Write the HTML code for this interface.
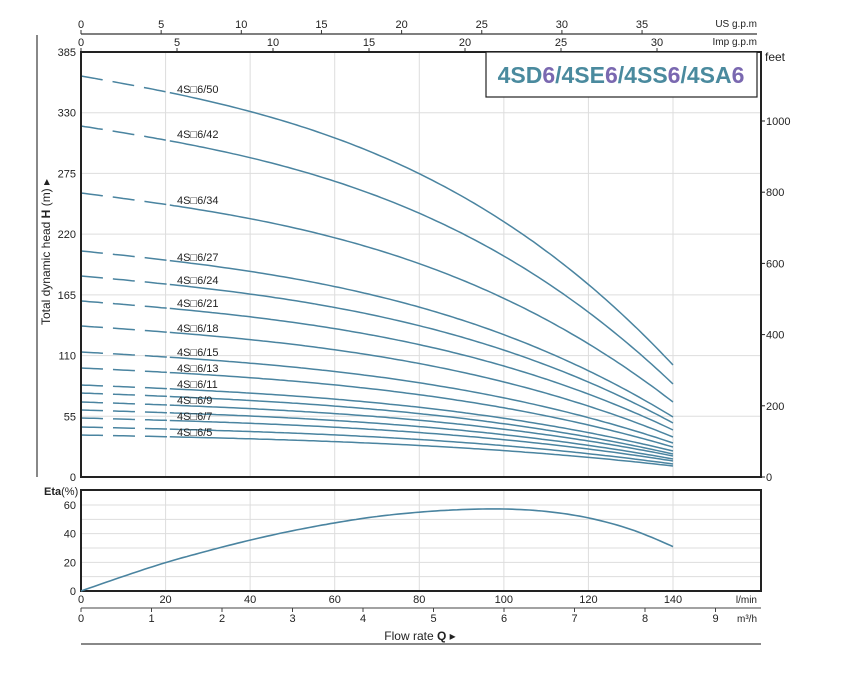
<!DOCTYPE html>
<html><head><meta charset="utf-8"><style>
body{margin:0;background:#fff}
svg{display:block;font-family:"Liberation Sans",sans-serif}
</style></head><body>
<svg id="s" width="855" height="678" viewBox="0 0 855 678" xmlns="http://www.w3.org/2000/svg">
<rect width="855" height="678" fill="#fff"/>
<g id="grid" stroke="#dddddd" stroke-width="1"></g>
<line x1="37" y1="35" x2="37" y2="477" stroke="#888" stroke-width="2"/>
<text transform="translate(50,252) rotate(-90)" font-size="12" text-anchor="middle" fill="#222">Total dynamic head <tspan font-weight="bold">H</tspan> (m) ▸</text>
<line x1="81" y1="34" x2="757" y2="34" stroke="#333" stroke-width="1.2"/>
<g id="top" font-size="11" fill="#222" text-anchor="middle"></g>
<text x="757" y="27" font-size="10" text-anchor="end" fill="#222">US g.p.m</text>
<text x="757" y="45" font-size="10" text-anchor="end" fill="#222">Imp g.p.m</text>
<g id="curves" fill="none" stroke="#4a84a0" stroke-width="1.5"></g>
<g id="labels" font-size="11" fill="#222"></g>
<rect x="81" y="52" width="680" height="425" fill="none" stroke="#222" stroke-width="2"/>
<rect x="486" y="52" width="271" height="45" fill="#fff" stroke="#222" stroke-width="1.2"/>
<text x="621" y="83" font-size="23" font-weight="bold" text-anchor="middle" fill="#4a8a9e">4SD<tspan fill="#7a68b0">6</tspan>/4SE<tspan fill="#7a68b0">6</tspan>/4SS<tspan fill="#7a68b0">6</tspan>/4SA<tspan fill="#7a68b0">6</tspan></text>
<text x="765" y="61" font-size="12" fill="#222">feet</text>
<g id="yax" font-size="11" fill="#222"></g>
<rect x="81" y="490" width="680" height="101" fill="none" stroke="#222" stroke-width="2"/>
<text x="44" y="495" font-size="11" fill="#222"><tspan font-weight="bold">Eta</tspan>(%)</text>
<path id="eta" fill="none" stroke="#4a84a0" stroke-width="1.6"/>
<g id="bot" font-size="11" fill="#222" text-anchor="middle"></g>
<line x1="81" y1="608" x2="761" y2="608" stroke="#444" stroke-width="1"/>
<text x="757" y="603" font-size="10" text-anchor="end" fill="#222">l/min</text>
<text x="757" y="622" font-size="10" text-anchor="end" fill="#222">m³/h</text>
<text x="420" y="640" font-size="12" text-anchor="middle" fill="#222">Flow rate  <tspan font-weight="bold">Q</tspan> ▸</text>
<line x1="81" y1="644" x2="761" y2="644" stroke="#888" stroke-width="2"/>
</svg>
<script>
const NS="http://www.w3.org/2000/svg";
function el(p,t,a,txt){const e=document.createElementNS(NS,t);for(const k in a)e.setAttribute(k,a[k]);if(txt!==undefined)e.textContent=txt;document.getElementById(p).appendChild(e);return e;}
const X=q=>81+q*592/140;
for(let q=20;q<=140;q+=20){el("grid","line",{x1:X(q),y1:52,x2:X(q),y2:477});el("grid","line",{x1:X(q),y1:490,x2:X(q),y2:591});}
for(let h=55;h<385;h+=55){const y=477-h*425/385;el("grid","line",{x1:81,y1:y,x2:761,y2:y});}
for(let e=10;e<70;e+=10){const y=591-e*86/60;el("grid","line",{x1:81,y1:y,x2:761,y2:y});}
for(let h=0;h<=385;h+=55){const y=477-h*425/385;el("yax","text",{x:76,y:y+4,"text-anchor":"end"},h);}
for(let f=0;f<=1000;f+=200){const y=477-f*0.356;el("yax","line",{x1:761,y1:y,x2:765,y2:y,stroke:"#222"});el("yax","text",{x:766,y:y+4},f);}
for(let e=0;e<=60;e+=20){const y=591-e*86/60;el("yax","text",{x:76,y:y+4,"text-anchor":"end"},e);}
for(let g=0;g<=35;g+=5){const x=81+g*16.03;el("top","text",{x:x,y:28},g);el("top","line",{x1:x,y1:30,x2:x,y2:34,stroke:"#333"});}
for(let g=0;g<=30;g+=5){const x=81+g*19.2;el("top","text",{x:x,y:46},g);el("top","line",{x1:x,y1:48,x2:x,y2:52,stroke:"#333"});}
for(let q=0;q<=140;q+=20)el("bot","text",{x:X(q),y:603},q);
for(let m=0;m<=9;m++){const x=81+m*70.5;el("bot","text",{x:x,y:622},m);el("bot","line",{x1:x,y1:608,x2:x,y2:612,stroke:"#444"});}
const def=q=>{const u=q/140;return 0.257*u+0.074*u*u+0.39*u*u*u;};
const c=[[50,76,365],[42,126,384],[34,193,402],[27,251,417],[24,276,423],[21,301,430],[18,326,437],[15,352,443],[13,368,447],[11,385,451],[10,393,454],[9,402,456],[8,410,459],[7,418,461],[6,427,464],[5,435,466]];
c.forEach(([n,y0,y1])=>{const H0=477-y0;const endf=(477-y1)/H0;
 const f=q=>1-def(q)*(1-endf)/0.721;
 let d="";for(let q=0;q<=21;q+=1){d+=(q?"L":"M")+X(q).toFixed(1)+","+(477-H0*f(q)).toFixed(1);}
 el("curves","path",{d:d,"stroke-dasharray":"22,10"});
 d="";for(let q=21;q<=140;q+=1){d+=(q>21?"L":"M")+X(q).toFixed(1)+","+(477-H0*f(q)).toFixed(1);}
 el("curves","path",{d:d});
});
const lab=[[50,93],[42,138],[34,204],[27,261],[24,284],[21,307],[18,332],[15,356],[13,372],[11,388],[9,404],[7,420],[5,436]];
lab.forEach(([n,y])=>{el("labels","text",{x:177,y:y},"4S□6/"+n);});
const ep=[[-10,-10.5],[0,0],[10,10.2],[20,19.8],[30,28],[40,35.5],[50,42],[60,47.5],[70,52],[80,55],[90,56.8],[100,57.2],[110,55.5],[120,51],[130,43],[140,31],[150,17]];
function cr(pts,q){for(let i=1;i<pts.length-2;i++){const[a,fa]=pts[i],[b,fb]=pts[i+1];if(q<=b){const p0=pts[i-1][1],p3=pts[i+2][1];const t=(q-a)/(b-a),t2=t*t,t3=t2*t;return 0.5*((2*fa)+(-p0+fb)*t+(2*p0-5*fa+4*fb-p3)*t2+(-p0+3*fa-3*fb+p3)*t3);}}return 0;}
let d="";for(let q=0;q<=140;q++){d+=(q?"L":"M")+X(q).toFixed(1)+","+(591-cr(ep,q)*86/60).toFixed(1);}
document.getElementById("eta").setAttribute("d",d);
</script>
</body></html>
